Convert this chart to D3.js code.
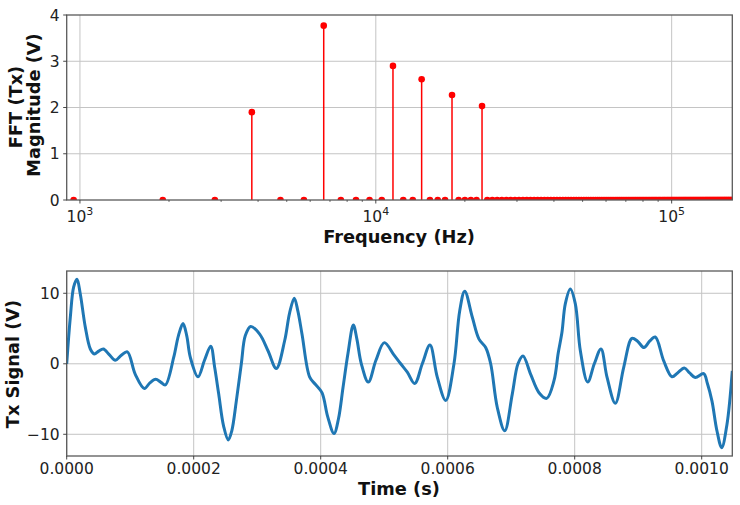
<!DOCTYPE html>
<html><head><meta charset="utf-8">
<script src="https://cdn.jsdelivr.net/npm/d3@7"></script>
<style>body{margin:0;background:#fff}svg{display:block;font-family:"DejaVu Sans",sans-serif}</style>
</head><body>
<svg id="c" width="740" height="505"></svg>
<script>
// ---------- DATA ----------
// FFT bin frequencies (Hz)
const fftFreqHz = [
 952,1905,2857,3810,4762,5714,6667,7619,8571,9524,10476,11429,12381,13333,14286,15238,16190,17143,18095,19048,
 20000,20952,21905,22857,23810,24762,25714,26667,27619,28571,29524,30476,31429,32381,33333,34286,35238,36190,37143,38095,
 39048,40000,40952,41905,42857,43810,44762,45714,46667,47619,48571,49524,50476,51429,52381,53333,54286,55238,56190,57143,
 58095,59048,60000,60952,61905,62857,63810,64762,65714,66667,67619,68571,69524,70476,71429,72381,73333,74286,75238,76190,
 77143,78095,79048,80000,80952,81905,82857,83810,84762,85714,86667,87619,88571,89524,90476,91429,92381,93333,94286,95238,
 96190,97143,98095,99048,100000,100952,101905,102857,103810,104762,105714,106667,107619,108571,109524,110476,111429,112381,113333,114286,
 115238,116190,117143,118095,119048,120000,120952,121905,122857,123810,124762,125714,126667,127619,128571,129524,130476,131429,132381,133333,
 134286,135238,136190,137143,138095,139048,140000,140952,141905,142857,143810,144762,145714,146667,147619,148571,149524,150476,151429,152381,
 153333,154286,155238,156190,157143,158095,159048,160000
];
// FFT magnitude (V) per bin
const fftMagV = [
 0,0,0,1.9,0,0,3.77,0,0,0,0,2.9,0,0,2.61,0,0,0,2.27,0,0,0,0,2.03,
 0,0,0,0,0,0,0,0,0,0,0,0,0,0,0,0,0,0,0,0,0,0,0,0,
 0,0,0,0,0,0,0,0,0,0,0,0,0,0,0,0,0,0,0,0,0,0,0,0,
 0,0,0,0,0,0,0,0,0,0,0,0,0,0,0,0,0,0,0,0,0,0,0,0,
 0,0,0,0,0,0,0,0,0,0,0,0,0,0,0,0,0,0,0,0,0,0,0,0,
 0,0,0,0,0,0,0,0,0,0,0,0,0,0,0,0,0,0,0,0,0,0,0,0,
 0,0,0,0,0,0,0,0,0,0,0,0,0,0,0,0,0,0,0,0,0,0,0,0
];
// Tx signal: time (microseconds) and voltage (V)
const txTimeUs = [0,5.7,11,16.2,21.4,29.3,37.2,43.5,50.5,57.7,67,76.6,86,95.5,108,122.3,131,140.1,148,155.3,
 168.5,176,183.2,189,194.7,206.8,217,226.8,233,239.4,247,254.5,260,267.1,275,281.3,289.8,303.9,317,330.1,
 343.3,351,358.4,364,370.6,382.7,391.5,402,411,421,428,435.1,443,451.4,457,464,475,487,500.2,515,
 526,536.4,548,560,572.1,583.6,596.9,609.9,618.9,626.8,638.8,649.3,659.8,667.7,678.1,689.8,701.7,710.7,718.6,730.7,
 743.8,755.9,767.4,774,780,785.2,793.1,801,808.9,820.5,830.9,841.4,850.9,864,877.2,890.2,899,909.1,918,926.9,
 940.2,953.2,962,972.6,981,989.9,1003.1,1009,1016.2,1024,1031.5,1039.8,1048.2];
const txSignalV = [0,6.6,10.9,12.0,9.9,5.2,2.1,1.4,1.8,2.1,1.3,0.5,1.2,1.7,-1.5,-3.5,-2.7,-2.2,-2.6,-3.0,
 0.9,4.0,5.7,4.0,0.9,-1.85,0.5,2.5,-0.5,-4.3,-8.8,-10.8,-9.5,-5.3,0,4.0,5.3,4.2,1.85,-0.66,
 3.3,7.2,9.3,7.5,4.2,-1.9,-2.9,-4.1,-7.5,-9.9,-7.8,-3.4,1.5,5.5,3.5,0,-2.6,0.5,3.0,1.3,
 0,-1.2,-2.8,0,2.65,-1.9,-5.2,0,7.5,10.3,6.6,3.5,2.3,0,-6.2,-9.5,-4.3,0,1.1,-1.5,
 -4.1,-4.9,-2.4,1.5,4.5,8.5,10.6,8.5,1.85,-2.6,0,2.1,-1.9,-5.6,-0.5,3.6,3.2,2.3,3.2,3.8,
 0.4,-1.85,-1.3,-0.6,-1.3,-1.95,-1.4,-2.8,-5.3,-9.5,-11.9,-8.6,-1.0];
const fftYTicks = [0,1,2,3,4];
const fftXTicks = [1e3,1e4,1e5];
const sigXTicks = [0,0.0002,0.0004,0.0006,0.0008,0.0010];
const sigYTicks = [-10,0,10];

// ---------- LAYOUT ----------
const svg = d3.select("#c");
const L = 66.7, R = 732.3;
const top1 = 15, bot1 = 200, top2 = 271, bot2 = 456;
const gridC = "#c4c4c4", spineC = "#5a5a5a", tickC = "#333", txtC = "#222";
const fs = 15.5, lfs = 17.8;

const defs = svg.append("defs");
defs.append("clipPath").attr("id","cp1").append("rect").attr("x",L).attr("y",top1).attr("width",R-L).attr("height",bot1-top1);
defs.append("clipPath").attr("id","cp2").append("rect").attr("x",L).attr("y",top2).attr("width",R-L).attr("height",bot2-top2);

// ---------- TOP: FFT stem plot ----------
const x1 = d3.scaleLog().domain([902,160300]).range([L,R]);
const y1 = d3.scaleLinear().domain([0,4]).range([bot1,top1]);
const g1 = svg.append("g");
g1.selectAll(".gx").data(fftXTicks).join("line").attr("x1",d=>x1(d)).attr("x2",d=>x1(d)).attr("y1",top1).attr("y2",bot1).attr("stroke",gridC).attr("stroke-width",1);
g1.selectAll(".gy").data(fftYTicks.slice(1,4)).join("line").attr("x1",L).attr("x2",R).attr("y1",d=>y1(d)).attr("y2",d=>y1(d)).attr("stroke",gridC).attr("stroke-width",1);
const fft = fftFreqHz.map((f,i)=>({f, m: fftMagV[i]}));
const pg = g1.append("g").attr("clip-path","url(#cp1)");
pg.selectAll("line.stem").data(fft.filter(d=>d.m>0)).join("line").attr("class","stem")
  .attr("x1",d=>x1(d.f)).attr("x2",d=>x1(d.f)).attr("y1",y1(0)).attr("y2",d=>y1(d.m))
  .attr("stroke","#ff0000").attr("stroke-width",1.5);
pg.selectAll("circle").data(fft).join("circle").attr("cx",d=>x1(d.f)).attr("cy",d=>y1(d.m)).attr("r",3.3).attr("fill","#ff0000");
g1.append("rect").attr("x",L).attr("y",top1).attr("width",R-L).attr("height",bot1-top1).attr("fill","none").attr("stroke",spineC).attr("stroke-width",1.3);
const minor1 = [];
[1e3,1e4,1e5].forEach(p=>{for(let k=2;k<10;k++){const v=k*p; if(v>=902&&v<=160300) minor1.push(v);}});
g1.selectAll(".mt").data(minor1).join("line").attr("x1",d=>x1(d)).attr("x2",d=>x1(d)).attr("y1",bot1).attr("y2",bot1+2).attr("stroke",tickC).attr("stroke-width",0.7);
g1.selectAll(".Mt").data(fftXTicks).join("line").attr("x1",d=>x1(d)).attr("x2",d=>x1(d)).attr("y1",bot1).attr("y2",bot1+3.5).attr("stroke",tickC).attr("stroke-width",0.9);
fftXTicks.forEach(d=>{
  const t = g1.append("text").attr("x",x1(d)).attr("y",222).attr("text-anchor","middle").attr("font-size",fs).attr("fill",txtC);
  t.append("tspan").text("10");
  t.append("tspan").attr("dy",-7).attr("font-size",11).text(String(Math.round(Math.log10(d))));
});
g1.selectAll(".yt").data(fftYTicks).join("line").attr("x1",L-3.5).attr("x2",L).attr("y1",d=>y1(d)).attr("y2",d=>y1(d)).attr("stroke",tickC).attr("stroke-width",0.9);
g1.selectAll(".yl").data(fftYTicks).join("text").attr("x",L-7).attr("y",d=>y1(d)).attr("dy","0.36em").attr("text-anchor","end").attr("font-size",fs).attr("fill",txtC).text(d=>d);
g1.append("text").attr("x",399).attr("y",243).attr("text-anchor","middle").attr("font-size",lfs).attr("font-weight","bold").attr("fill","#111").text("Frequency (Hz)");
g1.append("text").attr("transform","translate(21.5,107) rotate(-90)").attr("text-anchor","middle").attr("font-size",lfs).attr("font-weight","bold").attr("fill","#111").text("FFT (Tx)");
g1.append("text").attr("transform","translate(40,105) rotate(-90)").attr("text-anchor","middle").attr("font-size",lfs).attr("font-weight","bold").attr("fill","#111").text("Magnitude (V)");

// ---------- BOTTOM: Tx signal ----------
const x2 = d3.scaleLinear().domain([0,0.0010482]).range([L,R]);
const y2 = d3.scaleLinear().domain([-13.08,13.16]).range([bot2,top2]);
const g2 = svg.append("g");
g2.selectAll(".gx").data(sigXTicks).join("line").attr("x1",d=>x2(d)).attr("x2",d=>x2(d)).attr("y1",top2).attr("y2",bot2).attr("stroke",gridC).attr("stroke-width",1);
g2.selectAll(".gy").data(sigYTicks).join("line").attr("x1",L).attr("x2",R).attr("y1",d=>y2(d)).attr("y2",d=>y2(d)).attr("stroke",gridC).attr("stroke-width",1);
const sig = txTimeUs.map((t,i)=>({t:t*1e-6, v:txSignalV[i]}));
const line = d3.line().x(d=>x2(d.t)).y(d=>y2(d.v)).curve(d3.curveCatmullRom.alpha(0.5));
g2.append("path").attr("clip-path","url(#cp2)").attr("d",line(sig)).attr("fill","none").attr("stroke","#1f77b4").attr("stroke-width",3).attr("stroke-linejoin","round");
g2.append("rect").attr("x",L).attr("y",top2).attr("width",R-L).attr("height",bot2-top2).attr("fill","none").attr("stroke",spineC).attr("stroke-width",1.3);
g2.selectAll(".xt").data(sigXTicks).join("line").attr("x1",d=>x2(d)).attr("x2",d=>x2(d)).attr("y1",bot2).attr("y2",bot2+3.5).attr("stroke",tickC).attr("stroke-width",0.9);
g2.selectAll(".xl").data(sigXTicks).join("text").attr("x",d=>x2(d)).attr("y",474).attr("text-anchor","middle").attr("font-size",fs).attr("fill",txtC).text(d=>d3.format(".4f")(d));
g2.selectAll(".yt").data(sigYTicks).join("line").attr("x1",L-3.5).attr("x2",L).attr("y1",d=>y2(d)).attr("y2",d=>y2(d)).attr("stroke",tickC).attr("stroke-width",0.9);
g2.selectAll(".yl").data(sigYTicks).join("text").attr("x",L-7).attr("y",d=>y2(d)).attr("dy","0.36em").attr("text-anchor","end").attr("font-size",fs).attr("fill",txtC).text(d=>d3.format("d")(d));
g2.append("text").attr("x",399).attr("y",494.5).attr("text-anchor","middle").attr("font-size",lfs).attr("font-weight","bold").attr("fill","#111").text("Time (s)");
g2.append("text").attr("transform","translate(18.5,364) rotate(-90)").attr("text-anchor","middle").attr("font-size",lfs).attr("font-weight","bold").attr("fill","#111").text("Tx Signal (V)");
</script>
</body></html>
